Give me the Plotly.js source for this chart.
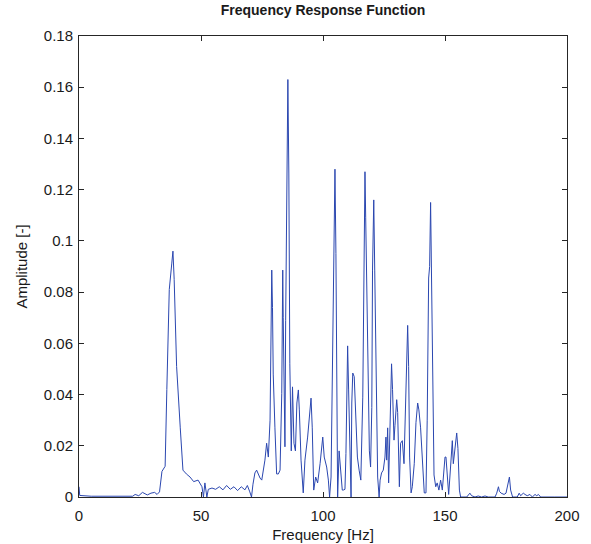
<!DOCTYPE html>
<html>
<head>
<meta charset="utf-8">
<script src="https://cdn.plot.ly/plotly-3.0.1.min.js"></script>
<style>html,body{margin:0;padding:0;background:#fff;}#chart{width:591px;height:544px;}</style>
</head>
<body>
<div id="chart"></div>
<script>
// Frequency [Hz]
const freq = [
  0, 0.3, 5, 10, 15, 20, 22, 23, 24.5, 26, 27, 28, 29.5, 31, 32, 33, 34, 35.3, 36, 37, 38, 38.5, 39, 40, 41.5, 42.6, 44, 45.5, 47, 48.8,
  50.4, 51, 51.6, 52.4, 53, 54.5, 56, 57.5, 59, 60.5, 62, 63.5, 65, 66.5, 68, 69, 70, 70.7, 71.3, 72.1, 72.8, 74.2, 74.9, 76.2, 76.9, 77.6,
  78.3, 78.6, 79.0, 79.3, 79.6, 80.3, 81.0, 81.7, 82.4, 83.1, 83.5, 83.7, 84.0, 84.4, 84.7, 85.1, 85.6, 86.0, 86.4, 87.0, 87.5, 88.1, 88.7,
  89.3, 89.9, 90.3, 91.0, 91.9, 92.6, 93.7, 94.7, 95.1, 95.6, 96.2, 97.0, 97.8, 98.8, 99.5, 99.9, 100.5, 101.5, 102.2, 102.7, 103.3, 103.8,
  104.4, 104.9, 105.3, 105.7, 106.0, 106.6, 107.2, 107.9, 108.3, 109.0, 109.4, 109.7, 110.1, 110.5, 111.1, 111.5, 111.8, 112.2, 112.8, 113.5,
  114.1, 114.8, 115.5, 116.3, 116.5, 116.9, 117.2, 117.5, 117.9, 118.4, 119.0, 119.5, 120.0, 120.3, 120.8, 121.2, 121.6, 122.0, 122.4, 123.0,
  123.4, 124.0, 124.7, 125.4, 125.8, 126.1, 126.5, 126.9, 127.5, 127.9, 128.1, 128.5, 129.1, 129.5, 130.2, 130.6, 131.3, 131.8, 132.5, 133.2,
  133.9, 134.3, 134.7, 135.1, 135.5, 136.1, 136.6, 137.4, 138.1, 138.8, 139.3, 140.0, 140.7, 141.5, 142.2, 142.7, 143.3, 143.7, 144.1, 144.5,
  145.1, 145.5, 146.2, 146.8, 147.5, 148.2, 148.9, 149.5, 150.0, 150.4, 150.9, 151.5, 152.0, 152.6, 153.0, 153.4, 154.1, 154.8, 155.3, 155.9,
  156.4, 157.5, 158.9, 159.6, 160.2, 160.9, 162.3, 163.6, 165.0, 166.4, 167.7, 170.5, 171.2, 171.9, 172.3, 173.0, 174.2, 175.0, 175.5, 176.4,
  176.9, 177.7, 179.6, 180.4, 181.0, 182.1, 182.8, 183.7, 184.8, 185.8, 186.9, 187.6, 188.3, 189.2, 195, 200
];
// Amplitude [-]
const amplitude = [
  0.004, 0.0006, 0.0003, 0.0003, 0.0003, 0.0004, 0.0003, 0.001, 0.0005, 0.0018, 0.0012, 0.0008, 0.0015, 0.0018, 0.001, 0.002, 0.01, 0.012, 0.042, 0.081, 0.091, 0.096, 0.085, 0.051, 0.027, 0.0105, 0.009, 0.0078, 0.006, 0.0066,
  0.004, 0.0, 0.0055, 0.0, 0.003, 0.0035, 0.003, 0.004, 0.0028, 0.0045, 0.003, 0.004, 0.0025, 0.004, 0.0028, 0.0045, 0.002, 0.0, 0.005, 0.0094, 0.0105, 0.0074, 0.0066, 0.0144, 0.021, 0.0156,
  0.030, 0.069, 0.0886, 0.074, 0.048, 0.027, 0.009, 0.009, 0.0105, 0.0405, 0.0886, 0.070, 0.0535, 0.0196, 0.069, 0.1265, 0.163, 0.1265, 0.052, 0.018, 0.043, 0.021, 0.018,
  0.0367, 0.0418, 0.034, 0.0144, 0.0016, 0.0144, 0.0234, 0.035, 0.0386, 0.027, 0.0027, 0.0078, 0.0055, 0.013, 0.0195, 0.0234, 0.0156, 0.0117, 0.0066, 0.0, 0.0078, 0.043,
  0.099, 0.128, 0.095, 0.031, 0.0, 0.018, 0.012, 0.0027, 0.0027, 0.003, 0.017, 0.0445, 0.059, 0.0418, 0.013, 0.0, 0.0367, 0.0484, 0.047, 0.033,
  0.0156, 0.0105, 0.0066, 0.039, 0.0664, 0.1113, 0.127, 0.109, 0.081, 0.0418, 0.018, 0.0117, 0.035, 0.0886, 0.116, 0.0886, 0.0547, 0.021, 0.0078, 0.0,
  0.0066, 0.0094, 0.0105, 0.0156, 0.0234, 0.0144, 0.027, 0.0055, 0.031, 0.0496, 0.052, 0.042, 0.0222, 0.028, 0.038, 0.033, 0.004, 0.021, 0.022, 0.013,
  0.043, 0.0586, 0.067, 0.051, 0.0156, 0.0016, 0.004, 0.013, 0.029, 0.0367, 0.034, 0.027, 0.013, 0.0016, 0.0016, 0.030, 0.0855, 0.090, 0.115, 0.0886,
  0.0367, 0.0086, 0.004, 0.0055, 0.0027, 0.0066, 0.0027, 0.0117, 0.0156, 0.0156, 0.0078, 0.001, 0.0078, 0.017, 0.022, 0.013, 0.018, 0.025, 0.019, 0.0027,
  0.0, 0.0, 0.0, 0.0008, 0.0015, 0.0005, 0.0, 0.0004, 0.0, 0.0004, 0.0, 0.0, 0.0015, 0.004, 0.0022, 0.0015, 0.001, 0.0015, 0.004, 0.0078,
  0.0027, 0.0, 0.0, 0.0015, 0.0005, 0.0015, 0.001, 0.0005, 0.001, 0.0, 0.001, 0.0005, 0.001, 0.0, 0.0, 0.0
];
const chartTitle = 'Frequency Response Function';
const xLabel = 'Frequency [Hz]';
const yLabel = 'Amplitude [-]';

const font = 'Liberation Sans, Arial, sans-serif';
const axisCommon = {
  showline: true, linecolor: '#262626', linewidth: 1, mirror: 'ticks',
  ticks: 'inside', ticklen: 5, tickcolor: '#262626', showgrid: false, zeroline: false,
  tickfont: {family: font, size: 15, color: '#1a1a1a'}
};
Plotly.newPlot('chart', [{
  x: freq, y: amplitude, type: 'scatter', mode: 'lines',
  line: {color: '#2b47b0', width: 1}, hoverinfo: 'x+y'
}], {
  width: 591, height: 544,
  margin: {l: 79, r: 24, t: 36, b: 47},
  paper_bgcolor: '#fff', plot_bgcolor: '#fff',
  showlegend: false,
  title: {text: '<b>' + chartTitle + '</b>', x: 0.5, xref: 'paper', y: 0.99, yanchor: 'top',
          font: {family: font, size: 14, color: '#1a1a1a'}},
  xaxis: Object.assign({}, axisCommon, {range: [0, 200], dtick: 50, tick0: 0, ticklabelstandoff: 5,
          title: {text: xLabel, standoff: 6, font: {family: font, size: 15, color: '#1a1a1a'}}}),
  yaxis: Object.assign({}, axisCommon, {range: [0, 0.18], dtick: 0.02, tick0: 0, ticklabelstandoff: 2,
          title: {text: yLabel, standoff: 12, font: {family: font, size: 15, color: '#1a1a1a'}}})
}, {displayModeBar: false, staticPlot: true});
</script>
</body>
</html>
